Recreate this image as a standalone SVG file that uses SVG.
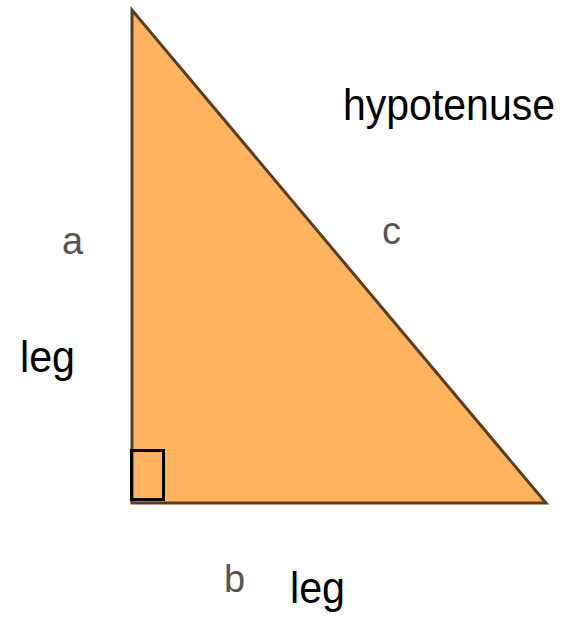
<svg xmlns="http://www.w3.org/2000/svg" width="573" height="617" viewBox="0 0 573 617">
<style>
.lbl{font-family:"Liberation Sans",Arial,sans-serif;fill:#000;font-size:44px}
.var{font-family:"Liberation Sans",Arial,sans-serif;fill:#555;font-size:38px}
</style>
<rect width="573" height="617" fill="#fff"/>
<g id="triangle">
<polygon points="132,10 132,503 546,503" fill="#FFB35E" stroke="#5a3d1e" stroke-width="3" stroke-linejoin="miter"/>
<rect x="131.5" y="450.5" width="32" height="49" fill="none" stroke="#000" stroke-width="3"/>
</g>
<g id="labels">
<text class="lbl" x="343" y="120" textLength="212" lengthAdjust="spacingAndGlyphs">hypotenuse</text>
<text class="lbl" x="20" y="372" textLength="55" lengthAdjust="spacingAndGlyphs">leg</text>
<text class="lbl" x="290" y="603" textLength="55" lengthAdjust="spacingAndGlyphs">leg</text>
<text class="var" x="62" y="254">a</text>
<text class="var" x="382" y="244">c</text>
<text class="var" x="224" y="592">b</text>
</g>
</svg>
